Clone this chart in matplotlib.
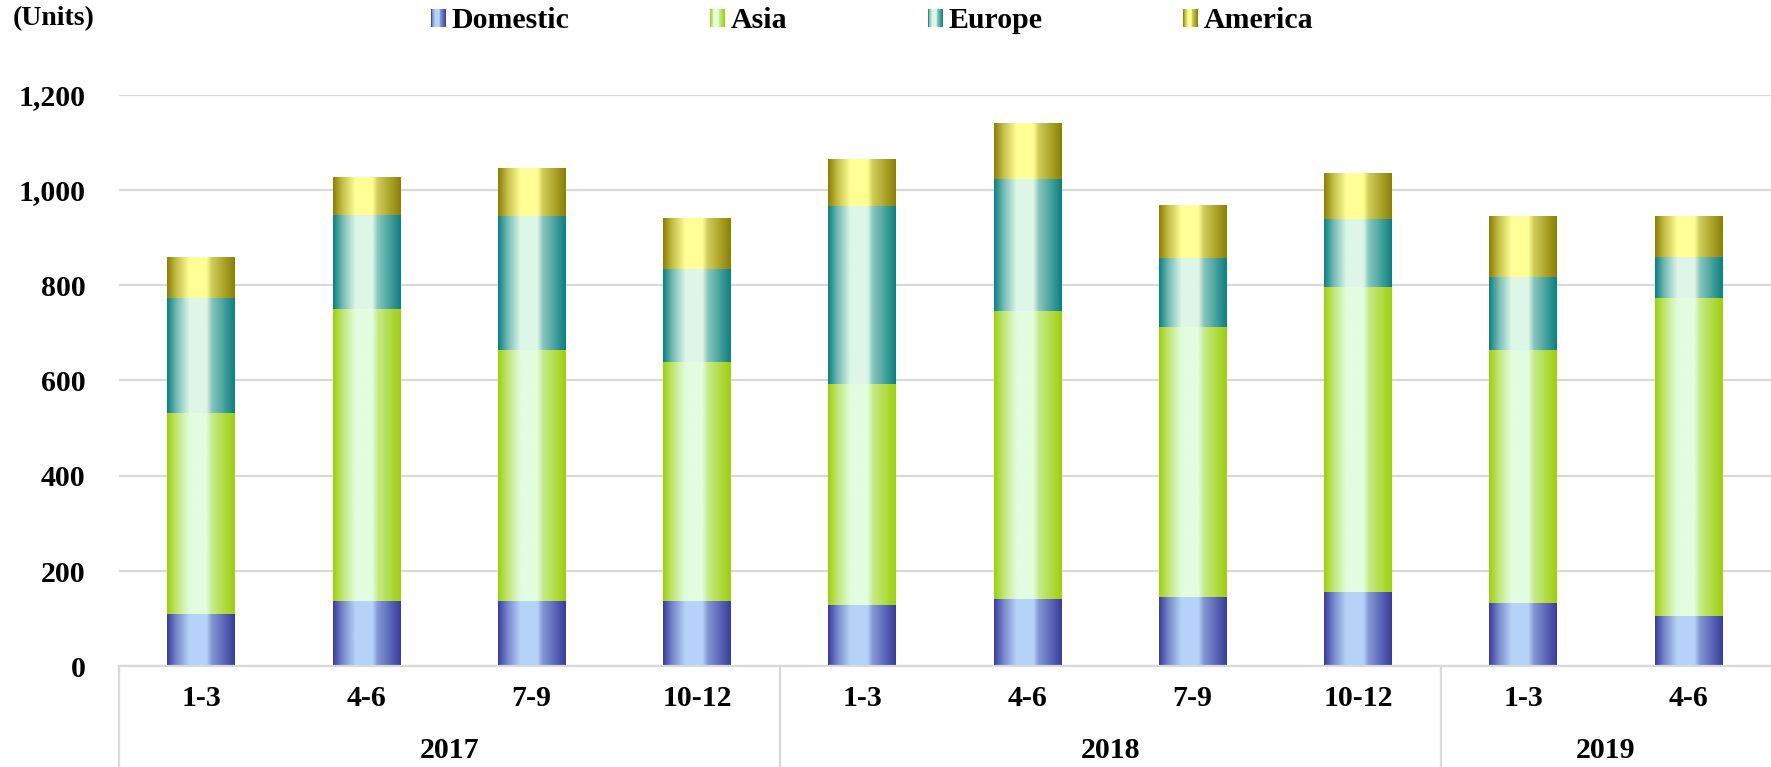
import numpy as np
import matplotlib
matplotlib.use("Agg")
import matplotlib.pyplot as plt
from matplotlib.colors import LinearSegmentedColormap, to_rgb
from matplotlib.legend_handler import HandlerBase
from matplotlib.patches import Rectangle
from matplotlib.ticker import FuncFormatter

# quarters per year and the stacked series (units)
quarters = ["1-3", "4-6", "7-9", "10-12", "1-3", "4-6", "7-9", "10-12", "1-3", "4-6"]
years = ["2017", "2018", "2019"]
year_counts = [4, 4, 2]

domestic = [109, 137, 137, 137, 128, 142, 146, 156, 133, 106]
asia = [423, 613, 527, 502, 464, 604, 566, 640, 531, 667]
europe = [242, 197, 282, 195, 374, 277, 146, 143, 153, 86]
america = [85, 78, 100, 105, 97, 117, 110, 96, 128, 86]

series_names = ["Domestic", "Asia", "Europe", "America"]
series_vals = [domestic, asia, europe, america]
# (edge colour, centre colour) of the horizontal gradient
series_cols = [("#383c9e", "#b6d3f7"), ("#9ecf0a", "#e2fddf"),
               ("#0a8080", "#ddf6e7"), ("#8a8000", "#ffff95")]

plt.rcParams["font.family"] = ["Liberation Serif", "DejaVu Serif"]
plt.rcParams["font.weight"] = "bold"
FS = 21.5
GRID = "#d9d9d9"


def make_cmap(dark, light):
    d = np.array(to_rgb(dark))
    l = np.array(to_rgb(light))
    mix = lambda f: tuple(l * (1 - f) + d * f)
    stops = [(0.0, mix(1.0)), (0.14, mix(0.5)), (0.33, mix(0.0)),
             (0.58, mix(0.0)), (0.66, mix(0.4)), (1.0, mix(1.0))]
    return LinearSegmentedColormap.from_list("g", stops)


cmaps = [make_cmap(*c) for c in series_cols]
grad = np.linspace(0, 1, 256).reshape(1, -1)


class GradHandler(HandlerBase):
    def __init__(self, cmap):
        super().__init__()
        self.cmap = cmap

    def create_artists(self, legend, orig_handle, xdescent, ydescent,
                       width, height, fontsize, trans):
        n = 16
        arts = []
        for i in range(n):
            r = Rectangle((-xdescent + width * i / n, -ydescent), width / n + 0.3, height,
                          facecolor=self.cmap((i + 0.5) / n), edgecolor="none",
                          transform=trans)
            arts.append(r)
        return arts


fig = plt.figure(figsize=(17.71, 7.67), dpi=100)
ax = fig.add_axes([0.067, 0.1313, 0.933, 0.7454])

x = np.arange(len(quarters))
bottom = np.zeros(len(quarters))
width = 0.41
handles = []
for name, vals, cmap in zip(series_names, series_vals, cmaps):
    bars = ax.bar(x, vals, width, bottom=bottom, color="none", edgecolor="none", label=name)
    for b in bars:
        ax.imshow(grad, cmap=cmap, aspect="auto", interpolation="bilinear",
                  extent=[b.get_x(), b.get_x() + b.get_width(),
                          b.get_y(), b.get_y() + b.get_height()], zorder=2)
    handles.append(bars[0])
    bottom += np.array(vals)

ax.set_xlim(-0.5, len(quarters) - 0.5)
ax.set_ylim(0, 1200)
ax.set_yticks(np.arange(0, 1201, 200))
ax.yaxis.set_major_formatter(FuncFormatter(lambda v, p: f"{v:,.0f}"))
ax.grid(axis="y", color=GRID, linewidth=1.6, zorder=0)
ax.set_axisbelow(True)
for s in ["top", "right", "left"]:
    ax.spines[s].set_visible(False)
ax.spines["bottom"].set_color(GRID)
ax.spines["bottom"].set_linewidth(1.6)
ax.tick_params(axis="y", length=0, pad=24, labelsize=FS)
ax.tick_params(axis="x", length=0, labelbottom=False)
for t in ax.get_yticklabels():
    t.set_fontweight("bold")

# two-level category axis
tr = ax.get_xaxis_transform()
for xi, q in zip(x, quarters):
    ax.text(xi, -0.057, q, transform=tr, ha="center", va="center",
            fontsize=FS, fontweight="bold")
start = 0
for yr, n in zip(years, year_counts):
    ax.plot([start - 0.5, start - 0.5], [0, -0.25], transform=tr, color=GRID,
            lw=1.6, clip_on=False)
    ax.text(start + (n - 1) / 2, -0.148, yr, transform=tr, ha="center", va="center",
            fontsize=FS, fontweight="bold")
    start += n

fig.text(13 / 1771, 1 - 19 / 767, "(Units)", ha="left", va="center",
         fontsize=20, fontweight="bold")

hmap = {h: GradHandler(c) for h, c in zip(handles, cmaps)}
fig.legend(handles, series_names, handler_map=hmap, ncol=4, loc="center",
           bbox_to_anchor=(872 / 1771, 1 - 21 / 767), frameon=False,
           prop={"size": FS, "weight": "bold"}, handlelength=0.5, handleheight=0.54,
           handletextpad=0.2, columnspacing=4.7, borderpad=0)

fig.savefig("out.png", dpi=100)
